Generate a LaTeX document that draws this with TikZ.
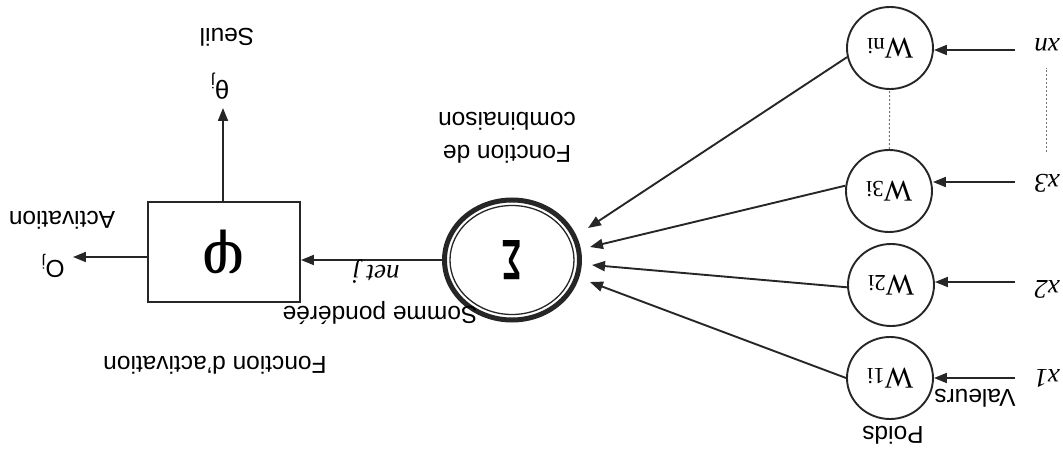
\documentclass[tikz,border=0pt]{standalone}
\usepackage{fontspec}
\setmainfont{Liberation Serif}
\setsansfont{Liberation Sans}
\newfontfamily\phifont{DejaVu Serif}
\usepackage{graphicx}
\usetikzlibrary{arrows.meta,shapes.geometric}

\begin{document}
\begin{tikzpicture}[x=1pt,y=-1pt,
  ink/.style={draw=black!85, line width=1.9pt},
  arr/.style={ink, -{Triangle[length=13pt,width=10pt]}},
  weight/.style={ellipse, ink, minimum width=86pt, minimum height=82pt,
    inner sep=0pt, font=\fontsize{30}{30}\selectfont},
  lab/.style={font=\sffamily\fontsize{24.5}{33}\selectfont, inner sep=0pt},
  inp/.style={font=\itshape\fontsize{27}{27}\selectfont, inner sep=0pt},
  dots/.style={draw=black!55, line width=1pt, dash pattern=on 2pt off 2pt},
]
% the whole neuron is drawn upright, then turned half a revolution
\begin{scope}[rotate=180, transform shape]
\useasboundingbox (0,0) rectangle (1063,453);

% weights
\node[weight] (w1) at (173,75)  {W{\fontsize{23}{23}\selectfont 1i}};
\node[weight] (w2) at (172,168) {W{\fontsize{23}{23}\selectfont 2i}};
\node[weight] (w3) at (174,262) {W{\fontsize{23}{23}\selectfont 3i}};
\node[weight] (wn) at (173,405) {W{\fontsize{23}{23}\selectfont ni}};
\draw[dots] (w3) -- (wn);

% input values
\node[inp] (x1) at (16,75)  {x1};
\node[inp] (x2) at (16,164) {x2};
\node[inp] (x3) at (16,270) {x3};
\node[inp] (xn) at (16,408) {xn};
\draw[dots, shorten <=22pt, shorten >=16pt] (x3) -- (xn);

\coordinate (i1) at (48,75);
\coordinate (i2) at (48,171);
\coordinate (i3) at (48,271);
\coordinate (in) at (48,403);
\draw[arr] (i1) -- (i1 -| w1.west);
\draw[arr] (i2) -- (i2 -| w2.west);
\draw[arr] (i3) -- (i3 -| w3.west);
\draw[arr] (in) -- (in -| wn.west);

\node[lab] (val) at (88,55) {Valeurs};
\node[lab] (poids) at (170,18) {Poids};

% combination function
\node[ellipse, draw=black!85, line width=5pt, minimum width=135pt,
  minimum height=120pt] (sig) at (551,193) {};
\node[ellipse, draw=black!85, line width=1.3pt, minimum width=124pt,
  minimum height=109pt, inner sep=0pt] (sigin) at (sig.center)
  {\sffamily\bfseries\fontsize{57}{57}\selectfont\scalebox{0.56}[1]{Σ}};

\coordinate (t1) at (473,171);
\coordinate (t2) at (471,188);
\coordinate (t3) at (473,206);
\coordinate (t4) at (475,225);
\draw[arr] (w1.0) -- (t1);
\draw[arr] (w2.3) -- (t2);
\draw[arr] (w3.-7) -- (t3);
\draw[arr] (wn.12) -- (t4);

\node[lab, align=center] (comb) at (556,315) {Fonction de\\combinaison};
\node[lab] (somme) at (683,140) {Somme pondérée};

% activation function
\node[ink, rectangle, minimum width=152pt, minimum height=100pt,
  font=\phifont\fontsize{60}{60}\selectfont] (phi) at (839,201) {φ};
\draw[arr] (sig.east) -- (phi.west |- sig.east);
\node[font=\itshape\fontsize{27}{27}\selectfont, inner sep=0pt] (net) at (687,181) {net j};

\coordinate (out) at (990,196);
\draw[arr] (phi.east |- out) -- (out);
\node[lab] (oj) at (1010,187) {O\textsubscript{\fontsize{16}{16}\selectfont j}};
\node[lab] (act) at (1001,233) {Activation};

\coordinate (thr) at (840,345);
\draw[arr] (phi.south -| thr) -- (thr);
\node[font=\sffamily\fontsize{26}{26}\selectfont, inner sep=0pt] (theta) at (843,367) {θ\textsubscript{\fontsize{17}{17}\selectfont j}};
\node[lab] (seuil) at (836,416) {Seuil};

\node[lab] (factiv) at (848,88) {Fonction d'activation};
\end{scope}
\end{tikzpicture}
\end{document}
